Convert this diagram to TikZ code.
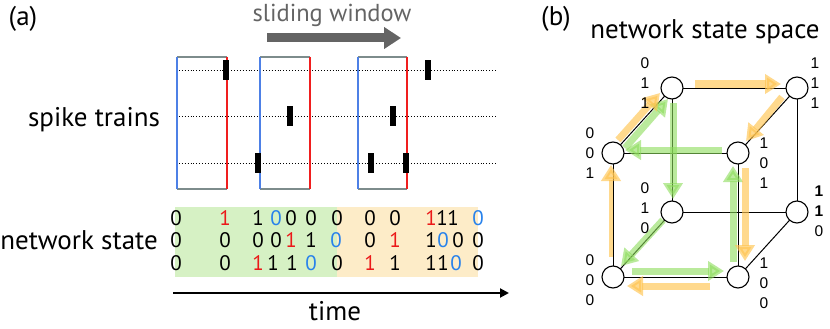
\documentclass[tikz,border=0pt]{standalone}
\usepackage{fontspec}
\setmainfont{PT Sans}
\newfontfamily\cubefont{Liberation Sans}
\usetikzlibrary{arrows.meta,calc}
\definecolor{winblue}{RGB}{77,128,230}
\definecolor{winred}{RGB}{240,30,30}
\definecolor{wingray}{RGB}{125,140,140}
\definecolor{dred}{RGB}{235,25,25}
\definecolor{dblue}{RGB}{40,130,235}
\definecolor{bggreen}{RGB}{214,241,196}
\definecolor{bgorange}{RGB}{253,236,200}
\definecolor{arrgray}{RGB}{100,100,100}
\definecolor{arrorange}{RGB}{255,196,80}
\definecolor{arrgreen}{RGB}{140,220,90}
\begin{document}
\begin{tikzpicture}[x=1pt,y=-1pt,
  bigtext/.style={font=\fontsize{27}{30}\selectfont, inner sep=0pt},
  dig/.style={font=\fontsize{21}{22}\selectfont, inner sep=0pt},
  clab/.style={font=\cubefont\fontsize{15.5}{20}\selectfont, align=center, inner sep=0pt},
  winside/.style={line width=2.6pt},
  spike/.style={fill=black},
  train/.style={dotted, line width=0.9pt},
  cnode/.style={circle, draw=black, fill=white, line width=1.1pt, minimum size=22pt, inner sep=0pt},
  cedge/.style={line width=1pt},
  oarrow/.style={arrorange, opacity=0.65, line width=7pt, -{Triangle[length=16pt,width=19pt]}},
  garrow/.style={arrgreen, opacity=0.6, line width=7pt, -{Triangle[length=16pt,width=19pt]}}
]
\useasboundingbox (0,0) rectangle (830,329);

% ---------- panel (a) ----------
\node[bigtext] (la) at (23,19) {(a)};
\node[font=\fontsize{24.5}{27}\selectfont, text=arrgray, inner sep=0pt] (sw) at (332,15) {sliding window};
\coordinate (swa) at (267,38);
\coordinate (swb) at (401,38);
\draw[arrgray, line width=9pt, -{Triangle[length=17pt,width=21pt]}] (swa) -- (swb);

% spike train lines
\foreach \y [count=\i] in {70,116,163} {
  \coordinate (ta\i) at (176,\y);
  \coordinate (tb\i) at (497,\y);
  \draw[train] (ta\i) -- (tb\i);
}

% windows
\foreach \l/\r [count=\i] in {177/227, 260/310, 358/407} {
  \coordinate (w\i tl) at (\l,57);
  \coordinate (w\i tr) at (\r,57);
  \coordinate (w\i bl) at (\l,189);
  \coordinate (w\i br) at (\r,189);
  \draw[winside, wingray] (w\i tl) -- (w\i tr);
  \draw[winside, wingray] (w\i bl) -- (w\i br);
  \draw[winside, winblue] (w\i tl) -- (w\i bl);
  \draw[winside, winred] (w\i tr) -- (w\i br);
}

% spikes
\foreach \x/\y in {226/70, 428/70, 290/116, 393/116, 258/163, 371/163, 406/163} {
  \fill[spike] (\x-3.2,\y-10) rectangle (\x+3.2,\y+10);
}

\node[bigtext] (st) at (94,120) {spike trains};

% network state background
\fill[bggreen] (175,207) rectangle (337,277);
\fill[bgorange] (337,207) rectangle (478,277);

\node[bigtext] (ns) at (79,240) {network state};

\foreach \x/\d/\c [count=\i] in {176/0/black, 225/1/dred, 258/1/black, 276/0/dblue, 291/0/black, 311/0/black, 337/0/black, 370/0/black, 395/0/black, 431/1/dred, 442/1/black, 453/1/black, 478/0/dblue}
  \node[dig, text=\c] (ra\i) at (\x,218) {\d};
\foreach \x/\d/\c [count=\i] in {176/0/black, 225/0/black, 258/0/black, 276/0/black, 291/1/dred, 311/1/black, 336/0/dblue, 370/0/black, 395/1/dred, 431/1/black, 443/0/dblue, 458/0/black, 478/0/black}
  \node[dig, text=\c] (rb\i) at (\x,240) {\d};
\foreach \x/\d/\c [count=\i] in {176/0/black, 225/0/black, 258/1/dred, 273/1/black, 292/1/black, 311/0/dblue, 337/0/black, 370/1/dred, 395/1/black, 431/1/black, 443/1/black, 456/0/dblue, 478/0/black}
  \node[dig, text=\c] (rc\i) at (\x,263) {\d};

\coordinate (t0) at (173,293);
\coordinate (t1) at (509,293);
\draw[line width=2pt, -{Triangle[length=9pt,width=9pt]}] (t0) -- (t1);
\node[bigtext] (tm) at (335,311) {time};

% ---------- panel (b) ----------
\node[bigtext] (lb) at (556,19) {(b)};
\node[bigtext] (nss) at (705,32) {network state space};

\coordinate (p011) at (672,88);
\coordinate (p111) at (797,88);
\coordinate (p001) at (613,153);
\coordinate (p101) at (738,153);
\coordinate (p010) at (672,212);
\coordinate (p110) at (797,212);
\coordinate (p000) at (613,277);
\coordinate (p100) at (738,277);

% edges
\draw[cedge] (p011) -- (p111);
\draw[cedge] (p011) -- (p001);
\draw[cedge] (p011) -- (p010);
\draw[cedge] (p111) -- (p101);
\draw[cedge] (p111) -- (p110);
\draw[cedge] (p001) -- (p101);
\draw[cedge] (p001) -- (p000);
\draw[cedge] (p101) -- (p100);
\draw[cedge] (p010) -- (p110);
\draw[cedge] (p010) -- (p000);
\draw[cedge] (p110) -- (p100);
\draw[cedge] (p000) -- (p100);

% green path
\draw[garrow] ($(p000)+(19,-6)$) -- ($(p100)+(-14,-6)$);
\draw[garrow] ($(p100)+(-5,-15)$) -- ($(p101)+(-5,13)$);
\draw[garrow] ($(p101)+(-16,-3)$) -- ($(p001)+(12,-3)$);
\draw[garrow] ($(p001)+(12,-5)$) -- ($(p011)+(-4,11)$);
\draw[garrow] ($(p011)+(1,15)$) -- ($(p010)+(1,-13)$);
\draw[garrow] ($(p010)+(-9,8)$) -- ($(p000)+(8,-11)$);

% orange path
\draw[oarrow, line width=4.5pt] ($(p000)+(-2,-20)$) -- ($(p001)+(-2,12)$);
\draw[oarrow] ($(p001)+(5,-13)$) -- ($(p011)+(-12,5)$);
\draw[oarrow] ($(p011)+(23,-4)$) -- ($(p111)+(-16,-4)$);
\draw[oarrow] ($(p111)+(-15,9)$) -- ($(p101)+(8,-12)$);
\draw[oarrow] ($(p101)+(7,15)$) -- ($(p100)+(7,-16)$);
\draw[oarrow] ($(p100)+(-28,9)$) -- ($(p000)+(14,9)$);

% nodes
\foreach \n in {011,111,001,101,010,110,000,100}
  \node[cnode] (n\n) at (p\n) {};

% labels
\node[clab] (l011) at (645,83) {0\\1\\1};
\node[clab] (l111) at (815,83) {1\\1\\1};
\node[clab] (l001) at (590,153) {0\\0\\1};
\node[clab] (l101) at (764,163) {1\\0\\1};
\node[clab] (l010) at (645,208) {0\\1\\0};
\node[clab] (l110) at (819,211) {\textbf{1}\\\textbf{1}\\0};
\node[clab] (l000) at (590,280) {0\\0\\0};
\node[clab] (l100) at (764,283) {1\\0\\0};
\end{tikzpicture}
\end{document}
